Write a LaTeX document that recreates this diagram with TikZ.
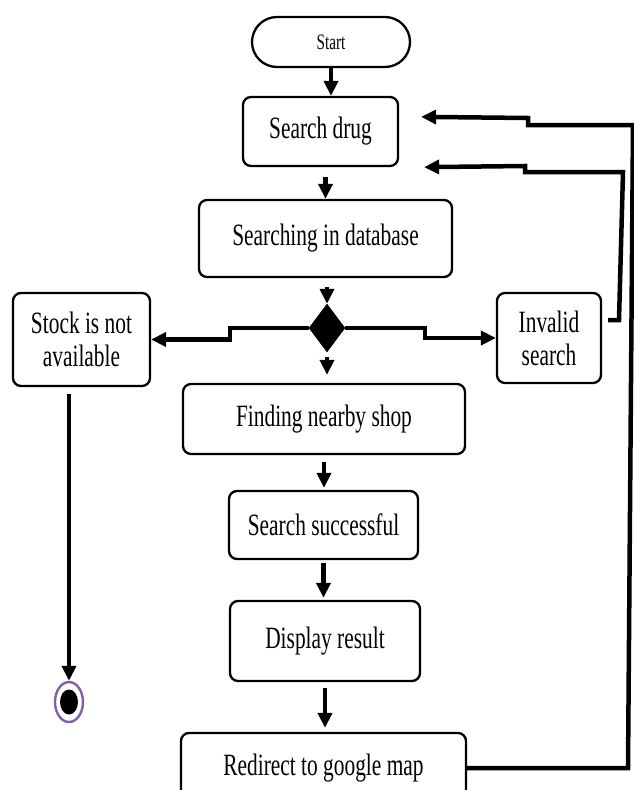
\documentclass[tikz,border=0pt]{standalone}
\usepackage{fontspec}
\setmainfont{Liberation Serif}[FakeStretch=0.69]
\usetikzlibrary{shapes.geometric,arrows.meta,calc}
\definecolor{endring}{HTML}{8064A2}
\tikzset{
  activity/.style={draw,line width=2.3pt,rounded corners=8pt,align=center,inner sep=0pt,
    font=\fontsize{31}{33}\selectfont},
  flow/.style={line width=4.5pt,-{Triangle[length=15pt,width=14pt]}},
}

\begin{document}
\begin{tikzpicture}[x=1pt,y=-1pt]
\clip (0,0) rectangle (634,790);
\node[activity,rounded corners=25pt,minimum width=158pt,minimum height=50pt,
  font=\fontsize{22}{26}\selectfont] (Start) at (331,42) {Start};
\node[activity,minimum width=155pt,minimum height=69pt] (Drug) at (320.5,131.5) {Search drug};
\node[activity,minimum width=253pt,minimum height=77pt] (Database) at (325.5,238.5) {Searching in database};
\node[diamond,draw,fill,inner sep=0pt,minimum width=36pt,minimum height=48pt] (Decision) at (327,328) {};
\node[activity,minimum width=137pt,minimum height=93pt] (NoStock) at (81.5,339.5) {Stock is not\\available};
\node[activity,minimum width=104pt,minimum height=90pt] (Invalid) at (549,338) {Invalid\\search};
\node[activity,minimum width=282pt,minimum height=70pt] (Shop) at (324,419) {Finding nearby shop};
\node[activity,minimum width=189pt,minimum height=68pt] (Success) at (323.5,525) {Search successful};
\node[activity,minimum width=190pt,minimum height=80pt] (Display) at (325,641) {Display result};
\node[activity,minimum width=285pt,minimum height=70pt] (Redirect) at (323.5,768) {Redirect to google map};
\node[ellipse,draw=endring,line width=2.4pt,fill=white,inner sep=0pt,minimum width=28pt,minimum height=40pt] (End) at (69,702) {};
\fill (End.center) ellipse (9pt and 12.5pt);

\draw[flow] (Start.south) -- (Start.south |- Drug.north);
\draw[flow,shorten <=10pt] (Database.north |- Drug.south) -- (Database.north);
\draw[flow,shorten <=9pt] (Decision.north |- Database.south) -- (Decision.north);
\draw[flow,shorten <=5pt,shorten >=8pt] (Decision.south) -- (Decision.south |- Shop.north);
\draw[flow,shorten <=7pt,shorten >=2pt] (Shop.south) -- (Shop.south |- Success.north);
\draw[flow,shorten <=3pt,shorten >=2pt] (Success.south) -- (Success.south |- Display.north);
\draw[flow,shorten <=6pt,shorten >=4pt] (Display.south) -- (Display.south |- Redirect.north);
\draw[flow] (Decision.west) -- (230,328) |- (NoStock.east);
\draw[flow] (Decision.east) -- (425,328) |- (Invalid.west);
\draw[flow,shorten <=7pt] (End.north |- NoStock.south) -- (End.north);
\draw[flow] ($(Invalid.east)+(6,-18)$) -- (619,320) -- (623,172) -- (525,172) -- (525,166)
  -- ($(Drug.south east)+(25,0)$);
\draw[flow] (Redirect.east) -- (628,768) -- (633,125) -- (528,125) -- (528,118)
  -- ($(Drug.north east)+(22,21)$);
\end{tikzpicture}
\end{document}
